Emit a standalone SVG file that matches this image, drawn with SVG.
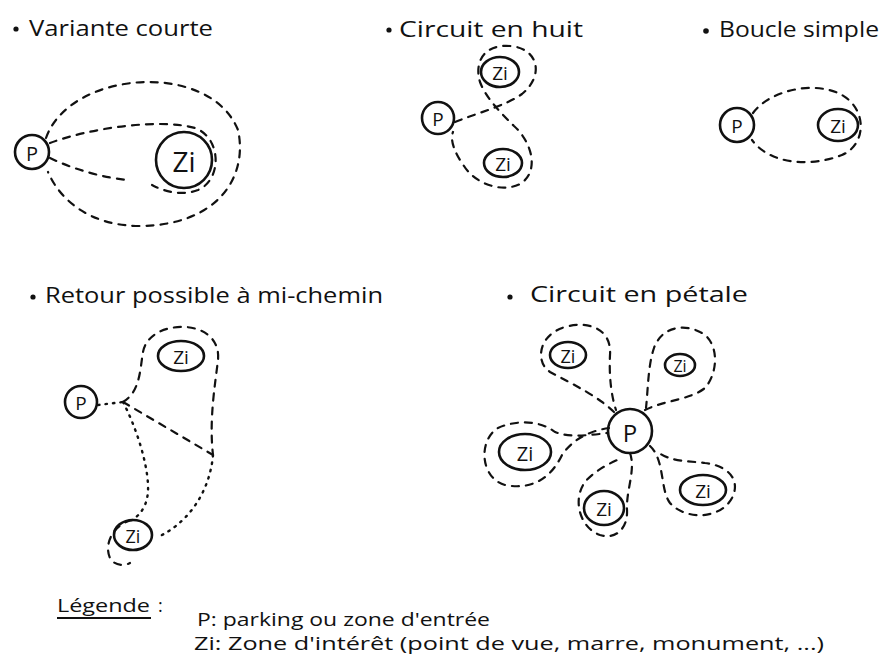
<svg xmlns="http://www.w3.org/2000/svg" width="883" height="664" viewBox="0 0 883 664">
<style>
.bg{fill:#ffffff}
.node{fill:none;stroke:#111;stroke-width:2.6}
.lbl{font-family:"Open Sans","Liberation Sans",sans-serif;fill:#111;text-anchor:middle;dominant-baseline:central}
.ttl{font-family:"Open Sans","Liberation Sans",sans-serif;fill:#111;font-size:22px}
.leg{font-family:"Open Sans","Liberation Sans",sans-serif;fill:#111;font-size:18px}
.dash{fill:none;stroke:#111;stroke-width:2.2;stroke-dasharray:7 7;stroke-linecap:round}
.dot{fill:none;stroke:#111;stroke-width:2.4;stroke-dasharray:1.5 6;stroke-linecap:round}
.bul{fill:#111}
</style>
<rect class="bg" x="0" y="0" width="883" height="664"/>

<g id="titles">
  <circle class="bul" cx="16" cy="29" r="2.6"/>
  <text class="ttl" x="29" y="36" textLength="184" lengthAdjust="spacingAndGlyphs">Variante courte</text>
  <circle class="bul" cx="389" cy="30" r="2.6"/>
  <text class="ttl" x="399" y="37" textLength="184" lengthAdjust="spacingAndGlyphs">Circuit en huit</text>
  <circle class="bul" cx="706" cy="31" r="2.8"/>
  <text class="ttl" x="719" y="37" textLength="160" lengthAdjust="spacingAndGlyphs">Boucle simple</text>
  <circle class="bul" cx="33" cy="297" r="2.6"/>
  <text class="ttl" x="45" y="303" textLength="338" lengthAdjust="spacingAndGlyphs">Retour possible à mi-chemin</text>
  <circle class="bul" cx="510" cy="297" r="2.6"/>
  <text class="ttl" x="530" y="302" textLength="218" lengthAdjust="spacingAndGlyphs">Circuit en pétale</text>
</g>

<g id="connectors">
  <!-- Variante courte -->
  <path class="dash" d="M46,138 C70,70 210,60 238,130 C248,175 220,225 140,226 C90,226 60,200 48,172"/>
  <path class="dash" d="M50,143 C90,128 160,118 195,128 C222,138 222,180 198,190 C182,196 165,192 152,185"/>
  <path class="dash" d="M50,158 C75,170 105,178 128,180"/>
  <!-- Circuit en huit -->
  <path class="dash" d="M455,122 C480,112 505,106 522,94 C545,75 538,48 510,46 C484,44 474,62 480,82 C486,98 500,112 514,126 C532,142 540,172 520,184 C500,194 474,182 464,166 C454,152 450,140 453,132"/>
  <!-- Boucle simple -->
  <path class="dash" d="M753,113 C770,90 815,80 842,95 C868,110 866,145 842,155 C812,167 770,165 752,140"/>
  <!-- Retour possible a mi-chemin -->
  <path class="dot" d="M98,405 L123,402"/>
  <path class="dash" d="M123,402 C140,392 140,370 143,352 C146,335 165,326 185,327 C205,328 220,340 218,360 C215,385 209,420 213,455"/>
  <path class="dot" d="M213,455 C210,490 190,522 158,537"/>
  <path class="dash" d="M123,402 L213,455"/>
  <path class="dot" d="M123,402 C135,425 147,460 148,485 C149,505 140,515 132,520"/>
  <path class="dash" d="M132,520 C112,525 104,545 110,558 C114,566 125,566 130,563"/>
  <!-- Circuit en petale -->
  <path class="dash" d="M614,412 C600,398 575,385 550,372 C535,362 538,335 565,327 C590,320 612,330 610,355 C609,375 611,395 616,410"/>
  <path class="dash" d="M645,410 C665,400 690,400 705,388 C720,370 718,340 700,332 C680,322 660,330 654,348 C648,365 648,390 646,408"/>
  <path class="dash" d="M609,428 C595,430 575,436 562,455 C550,480 530,490 505,485 C480,478 478,440 498,428 C515,420 540,420 555,432 C570,438 590,435 608,433"/>
  <path class="dash" d="M630,453 C636,470 626,490 627,510 C628,528 616,540 600,535 C580,528 572,500 585,482 C595,470 612,462 622,458"/>
  <path class="dash" d="M650,446 C665,460 660,490 670,503 C685,520 720,520 732,498 C742,478 725,465 705,463 C690,461 670,462 658,452"/>
</g>

<!-- Variante courte nodes -->
<g id="vc-p"><circle class="node" cx="32" cy="152" r="17"/><text class="lbl" x="32" y="153" font-size="20">P</text></g>
<g id="vc-zi"><circle class="node" cx="184" cy="160" r="28"/><text class="lbl" x="184" y="161" font-size="28">Zi</text></g>
<!-- Circuit en huit nodes -->
<g id="ch-p"><circle class="node" cx="438" cy="118" r="16"/><text class="lbl" x="438" y="119" font-size="19">P</text></g>
<g id="ch-zi1"><ellipse class="node" cx="500" cy="72" rx="19" ry="15"/><text class="lbl" x="500" y="73" font-size="19">Zi</text></g>
<g id="ch-zi2"><ellipse class="node" cx="503" cy="163" rx="19" ry="14"/><text class="lbl" x="503" y="164" font-size="19">Zi</text></g>
<!-- Boucle simple nodes -->
<g id="bs-p"><circle class="node" cx="737" cy="125" r="17"/><text class="lbl" x="737" y="126" font-size="19">P</text></g>
<g id="bs-zi"><ellipse class="node" cx="838" cy="125" rx="20" ry="16"/><text class="lbl" x="838" y="126" font-size="19">Zi</text></g>
<!-- Retour possible nodes -->
<g id="rp-p"><circle class="node" cx="81" cy="402" r="16"/><text class="lbl" x="81" y="403" font-size="19">P</text></g>
<g id="rp-zi1"><ellipse class="node" cx="181" cy="356" rx="23" ry="15"/><text class="lbl" x="181" y="357" font-size="19">Zi</text></g>
<g id="rp-zi2"><ellipse class="node" cx="133" cy="535" rx="19" ry="15"/><text class="lbl" x="133" y="536" font-size="18">Zi</text></g>
<!-- Circuit en petale nodes -->
<g id="cp-p"><circle class="node" cx="630" cy="431" r="22"/><text class="lbl" x="630" y="432" font-size="24">P</text></g>
<g id="cp-zi1"><ellipse class="node" cx="568" cy="355" rx="18" ry="13"/><text class="lbl" x="568" y="356" font-size="18">Zi</text></g>
<g id="cp-zi2"><ellipse class="node" cx="680" cy="365" rx="15" ry="11"/><text class="lbl" x="680" y="366" font-size="16">Zi</text></g>
<g id="cp-zi3"><ellipse class="node" cx="525" cy="452" rx="26" ry="18"/><text class="lbl" x="525" y="453" font-size="20">Zi</text></g>
<g id="cp-zi4"><ellipse class="node" cx="604" cy="508" rx="20" ry="17"/><text class="lbl" x="604" y="509" font-size="19">Zi</text></g>
<g id="cp-zi5"><ellipse class="node" cx="703" cy="490" rx="23" ry="15"/><text class="lbl" x="703" y="491" font-size="19">Zi</text></g>

<g id="legend">
  <text class="leg" x="57" y="612" font-size="19" textLength="93" lengthAdjust="spacingAndGlyphs">Légende</text>
  <line x1="57" y1="618" x2="151" y2="618" stroke="#111" stroke-width="2"/>
  <text class="leg" x="158" y="612">:</text>
  <text class="leg" x="197" y="626" textLength="293" lengthAdjust="spacingAndGlyphs">P: parking ou zone d'entrée</text>
  <text class="leg" x="194" y="650" textLength="630" lengthAdjust="spacingAndGlyphs">Zi: Zone d'intérêt (point de vue, marre, monument, ...)</text>
</g>
</svg>
